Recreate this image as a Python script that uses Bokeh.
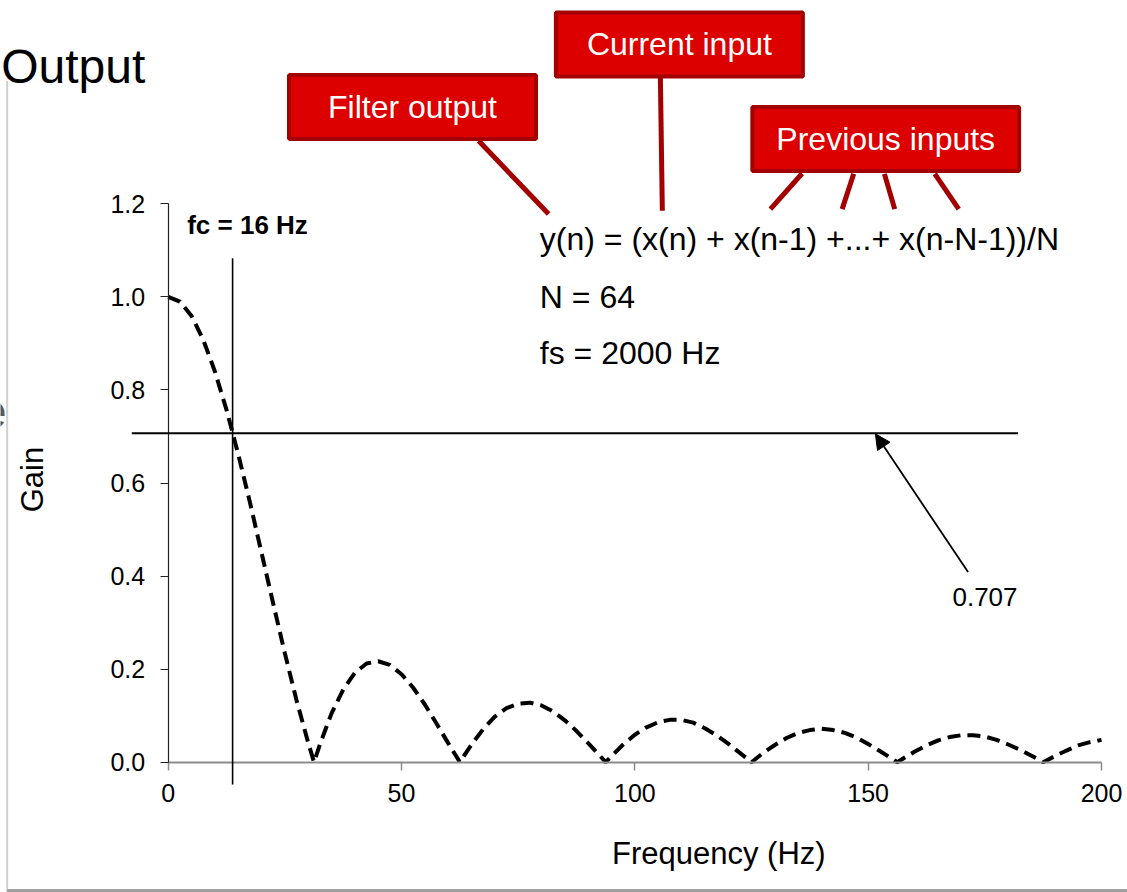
import math
from bokeh.plotting import figure
from bokeh.models import (Range1d, FixedTicker, PrintfTickFormatter, Label, Arrow,
                          NormalHead)
from bokeh.embed import file_html
from bokeh.resources import INLINE

# ---------------- data ----------------
freq = [0, 2.5, 5, 7.5, 10, 12.5, 15, 17.5, 20, 22.5, 25, 27.5, 30, 31.25,
        32.5, 35, 37.5, 40, 42.5, 45, 47.5, 50, 52.5, 55, 57.5, 60, 62.5,
        65, 67.5, 70, 72.5, 75, 77.5, 80, 82.5, 85, 87.5, 90, 92.5, 93.75,
        95, 97.5, 100, 102.5, 105, 107.5, 110, 112.5, 115, 117.5, 120, 122.5, 125,
        127.5, 130, 132.5, 135, 137.5, 140, 142.5, 145, 147.5, 150, 152.5, 155, 156.25,
        157.5, 160, 162.5, 165, 167.5, 170, 172.5, 175, 177.5, 180, 182.5, 185, 187.5,
        190, 192.5, 195, 197.5, 200]
gain = [1.000, 0.990, 0.959, 0.908, 0.840, 0.757, 0.662, 0.559, 0.450, 0.341, 0.234, 0.133, 0.042, 0.000,
        0.038, 0.105, 0.156, 0.192, 0.212, 0.217, 0.209, 0.189, 0.160, 0.124, 0.083, 0.041, 0.000,
        0.038, 0.071, 0.098, 0.116, 0.126, 0.128, 0.122, 0.109, 0.090, 0.067, 0.041, 0.014, 0.000,
        0.013, 0.038, 0.059, 0.075, 0.086, 0.091, 0.091, 0.085, 0.073, 0.058, 0.040, 0.020, 0.000,
        0.020, 0.037, 0.052, 0.063, 0.069, 0.072, 0.069, 0.063, 0.053, 0.039, 0.024, 0.008, 0.000,
        0.008, 0.023, 0.036, 0.047, 0.054, 0.058, 0.058, 0.055, 0.048, 0.038, 0.027, 0.014, 0.000,
        0.013, 0.025, 0.036, 0.043, 0.048]
x_ticks = [0, 50, 100, 150, 200]
y_ticks = [0.0, 0.2, 0.4, 0.6, 0.8, 1.0, 1.2]
half_power = 0.707
fc_line = 13.8
formula_lines = ["y(n) = (x(n) + x(n-1) +...+ x(n-N-1))/N", "N = 64", "fs = 2000 Hz"]
callouts = ["Filter output", "Current input", "Previous inputs"]

FONT = "Liberation Sans"
RED_FILL = "#dd0000"
RED_EDGE = "#a30000"

# the frame fills the whole canvas; axes are pinned at 0 and bounded to the data span
p = figure(width=1127, height=892,
           x_range=Range1d(-35.937, 205.57), y_range=Range1d(-0.28002, 1.6369),
           output_backend="svg", toolbar_location=None, min_border=0)
p.background_fill_color = "white"
p.border_fill_color = "white"
p.outline_line_color = None
p.xgrid.visible = False
p.ygrid.visible = False

# x axis
xa = p.xaxis[0]
xa.fixed_location = 0
xa.bounds = (0, 200)
xa.ticker = FixedTicker(ticks=x_ticks)
xa.axis_line_color = "#8c8c8c"
xa.axis_line_width = 2
xa.major_tick_line_color = "#8c8c8c"
xa.major_tick_line_width = 1.5
xa.major_tick_out = 8
xa.major_tick_in = 0
xa.minor_tick_line_color = None
xa.major_label_text_font = FONT
xa.major_label_text_font_size = "25px"
xa.major_label_text_color = "black"
xa.major_label_standoff = 14

# y axis
ya = p.yaxis[0]
ya.fixed_location = 0
ya.bounds = (0, 1.2)
ya.ticker = FixedTicker(ticks=y_ticks)
ya.formatter = PrintfTickFormatter(format="%.1f")
ya.axis_line_color = "#222222"
ya.axis_line_width = 1.2
ya.major_tick_line_color = "#222222"
ya.major_tick_out = 8
ya.major_tick_in = 0
ya.minor_tick_line_color = None
ya.major_label_text_font = FONT
ya.major_label_text_font_size = "25px"
ya.major_label_text_color = "black"
ya.major_label_standoff = 15

# dashed response curve
p.line(freq, gain, line_color="black", line_width=4, line_dash="13 7", line_cap="butt")

# reference lines
p.add_layout(Arrow(x_start=-7.8, y_start=half_power, x_end=182.1, y_end=half_power,
                   end=None, line_color="black", line_width=2))
p.add_layout(Arrow(x_start=fc_line, y_start=1.083, x_end=fc_line, y_end=-0.048,
                   end=None, line_color="black", line_width=1.6))
p.add_layout(Arrow(x_start=171.4, y_start=0.4085, x_end=151.55, y_end=0.7056,
                   end=NormalHead(size=15, fill_color="black", line_color="black"),
                   line_color="black", line_width=1.8))

def lab(x, y, text, size, **kw):
    d = dict(text_font=FONT, text_font_size=size, text_color="black",
             text_baseline="bottom")
    d.update(kw)
    p.add_layout(Label(x=x, y=y, text=text, **d))

lab(168.06, 0.3360, "0.707", "26px")
lab(4.07, 1.1232, "fc = 16 Hz", "26px", text_font_style="bold")
for txt, yy in zip(formula_lines, [1.0866, 0.9615, 0.8413]):
    lab(79.64, yy, txt, "32px")

# axis titles
lab(118.0, -0.2331, "Frequency (Hz)", "31px", text_align="center")
lab(-25.31, 0.6075, "Gain", "31px", text_align="center", angle=math.pi / 2)

# slide fragments
lab(-35.8, 1.4385, "Output", "48px")
lab(-34.62, 0.7187, "e", "48px", text_align="right", text_color="#595959")
p.add_layout(Arrow(x_start=-34.51, y_start=1.464, x_end=-34.51, y_end=-0.28,
                   end=None, line_color="#d0d0d0", line_width=2))
p.add_layout(Arrow(x_start=-34.51, y_start=-0.2758, x_end=205.6, y_end=-0.2758,
                   end=None, line_color="#a0a0a0", line_width=3))

# callout connectors
for xs, ys, xe, ye in [(66.52, 1.3353, 81.52, 1.1779),
                       (105.47, 1.4705, 105.89, 1.1850),
                       (135.84, 1.2651, 129.05, 1.1886),
                       (146.90, 1.2644, 144.42, 1.1886),
                       (153.48, 1.2644, 155.69, 1.1886),
                       (164.27, 1.2644, 169.41, 1.1886)]:
    p.add_layout(Arrow(x_start=xs, y_start=ys, x_end=xe, y_end=ye, end=None,
                       line_color=RED_EDGE, line_width=5))

# callout boxes
for txt, (cx, cy), padx in zip(callouts, [(52.35, 1.4082), (109.54, 1.5424), (153.76, 1.3391)],
                               [39, 31, 24]):
    p.add_layout(Label(x=cx, y=cy, text=txt, text_font=FONT, text_font_size="32px",
                       text_color="white", text_align="center", text_baseline="middle",
                       background_fill_color=RED_FILL, border_line_color=RED_EDGE,
                       border_line_width=4, padding=(padx, 14)))

open("out.html", "w").write(file_html(p, INLINE))
